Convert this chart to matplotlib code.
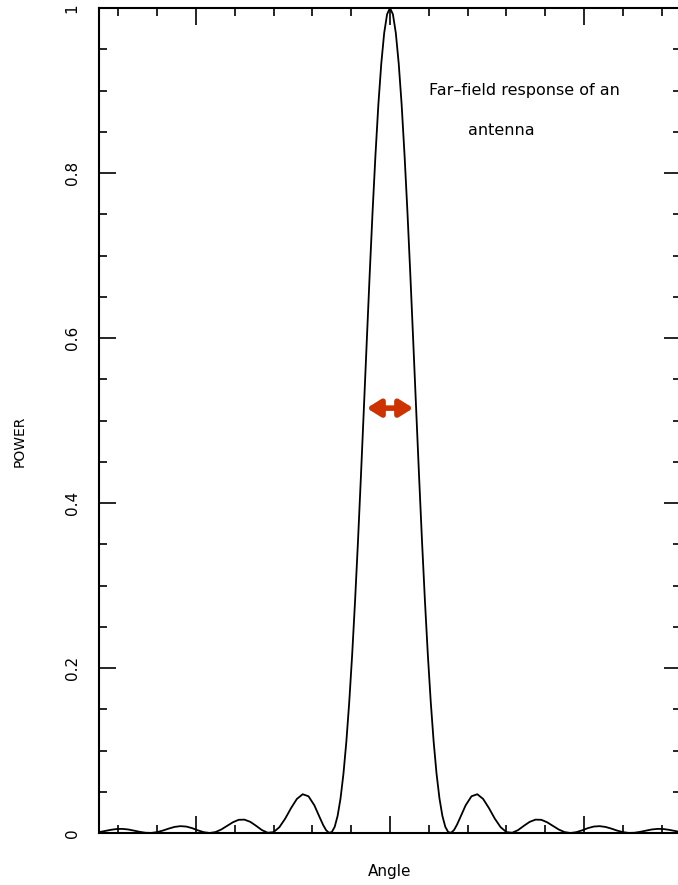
import matplotlib
matplotlib.use("Agg")
import matplotlib.pyplot as plt
from matplotlib.ticker import MultipleLocator

# Angle samples (arbitrary units) and power
angle = [-1.50, -1.47, -1.44, -1.41, -1.38, -1.35, -1.32, -1.29, -1.26, -1.23,
         -1.20, -1.17, -1.14, -1.11, -1.08, -1.05, -1.02, -0.99, -0.96, -0.93,
         -0.90, -0.87, -0.84, -0.81, -0.78, -0.75, -0.72, -0.69, -0.66, -0.63,
         -0.60, -0.57, -0.54, -0.51, -0.48, -0.45, -0.42, -0.39, -0.36, -0.345,
         -0.33, -0.315, -0.30, -0.285, -0.27, -0.255, -0.24, -0.225, -0.21, -0.195,
         -0.18, -0.165, -0.15, -0.135, -0.12, -0.105, -0.09, -0.075, -0.06, -0.045,
         -0.03, -0.015, 0.00, 0.015, 0.03, 0.045, 0.06, 0.075, 0.09, 0.105,
         0.12, 0.135, 0.15, 0.165, 0.18, 0.195, 0.21, 0.225, 0.24, 0.255,
         0.27, 0.285, 0.30, 0.315, 0.33, 0.345, 0.36, 0.39, 0.42, 0.45,
         0.48, 0.51, 0.54, 0.57, 0.60, 0.63, 0.66, 0.69, 0.72, 0.75,
         0.78, 0.81, 0.84, 0.87, 0.90, 0.93, 0.96, 0.99, 1.02, 1.05,
         1.08, 1.11, 1.14, 1.17, 1.20, 1.23, 1.26, 1.29, 1.32, 1.35,
         1.38, 1.41, 1.44, 1.47, 1.50]

power = [0.0010, 0.0024, 0.0038, 0.0048, 0.0050, 0.0043, 0.0029, 0.0014, 0.0003, 0.0001,
         0.0011, 0.0030, 0.0054, 0.0074, 0.0083, 0.0078, 0.0059, 0.0032, 0.0010, 0.0000,
         0.0011, 0.0042, 0.0086, 0.0130, 0.0160, 0.0162, 0.0135, 0.0087, 0.0035, 0.0003,
         0.0011, 0.0071, 0.0175, 0.0302, 0.0413, 0.0470, 0.0445, 0.0336, 0.0177, 0.0099,
         0.0036, 0.0003, 0.0011, 0.0075, 0.0208, 0.0419, 0.0717, 0.1107, 0.1591, 0.2162,
         0.2817, 0.3538, 0.4317, 0.5127, 0.5947, 0.6756, 0.7522, 0.8215, 0.8830, 0.9325,
         0.9697, 0.9924, 1.0000, 0.9924, 0.9697, 0.9325, 0.8830, 0.8215, 0.7522, 0.6756,
         0.5947, 0.5127, 0.4317, 0.3538, 0.2817, 0.2162, 0.1591, 0.1107, 0.0717, 0.0419,
         0.0208, 0.0075, 0.0011, 0.0003, 0.0036, 0.0099, 0.0177, 0.0336, 0.0445, 0.0470,
         0.0413, 0.0302, 0.0175, 0.0071, 0.0011, 0.0003, 0.0035, 0.0087, 0.0135, 0.0162,
         0.0160, 0.0130, 0.0086, 0.0042, 0.0011, 0.0000, 0.0010, 0.0032, 0.0059, 0.0078,
         0.0083, 0.0074, 0.0054, 0.0030, 0.0011, 0.0001, 0.0003, 0.0014, 0.0029, 0.0043,
         0.0050, 0.0048, 0.0038, 0.0024, 0.0010]

ytick_vals = [0, 0.2, 0.4, 0.6, 0.8, 1]
ytick_labels = ["0", "0.2", "0.4", "0.6", "0.8", "1"]

title_lines = ["Far\u2013field response of an", "antenna"]
x_label = "Angle"
y_label = "POWER"

# beam-width arrow (half-power width)
arrow_x = [-0.12, 0.12]
arrow_y = 0.515

fig = plt.figure(figsize=(6.78, 8.85), dpi=100)
ax = fig.add_axes([99 / 678, 1 - 833 / 885, 582 / 678, 825 / 885])

ax.plot(angle, power, color="black", lw=1.3)
ax.set_xlim(-1.5, 1.5)
ax.set_ylim(0, 1)

ax.xaxis.set_major_locator(MultipleLocator(1.0))
ax.xaxis.set_minor_locator(MultipleLocator(0.2))
ax.yaxis.set_minor_locator(MultipleLocator(0.05))
ax.set_yticks(ytick_vals)
ax.set_yticklabels(ytick_labels, rotation=90, va="center", fontsize=11)
ax.set_xticklabels([])

ax.tick_params(which="both", direction="in", top=True, right=True,
               labelbottom=False, width=1.2, colors="black")
ax.tick_params(which="major", length=12, pad=14)
ax.tick_params(which="minor", length=6)
for s in ax.spines.values():
    s.set_linewidth(1.5)

ax.set_xlabel(x_label, fontsize=11, labelpad=22)
ax.set_ylabel(y_label, fontsize=10)
ax.yaxis.set_label_coords(-72 / 582, 0.475)

ax.text(0.20, 0.900, title_lines[0], fontsize=11.5, ha="left", va="center")
ax.text(0.40, 0.852, title_lines[1], fontsize=11.5, ha="left", va="center")

ax.annotate("", xy=(arrow_x[0], arrow_y), xytext=(arrow_x[1], arrow_y),
            arrowprops=dict(arrowstyle="<|-|>,head_length=0.8,head_width=0.5",
                            color="#cc3300", lw=4, shrinkA=0, shrinkB=0))

fig.savefig("out.png", dpi=100)
